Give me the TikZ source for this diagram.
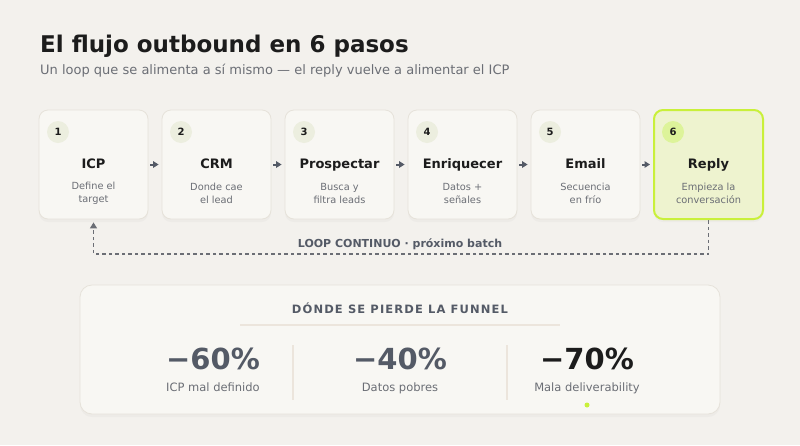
\documentclass[tikz,border=0pt]{standalone}
\usepackage{fontspec}
\setmainfont{DejaVu Sans}
\newfontfamily\spacedfont[LetterSpace=10]{DejaVu Sans}
\usepackage{tikz}
\usetikzlibrary{arrows.meta,shadows}

\definecolor{paper}{HTML}{F3F1ED}
\definecolor{card}{HTML}{F8F7F3}
\definecolor{cardline}{HTML}{E6E2DA}
\definecolor{badgefill}{HTML}{ECEEDF}
\definecolor{lime}{HTML}{C9F03A}
\definecolor{limefill}{HTML}{EEF3CF}
\definecolor{limebadge}{HTML}{DDF39A}
\definecolor{ink}{HTML}{1C1C1C}
\definecolor{softgray}{HTML}{6B6E75}
\definecolor{numgray}{HTML}{545A66}
\definecolor{beige}{HTML}{ECE5DC}

\tikzset{
    stepbox/.style = {draw = cardline, fill = card, line width = 0.8pt,
        rounded corners = 9pt, minimum width = 109pt, minimum height = 109pt,
        drop shadow = {shadow xshift = 0pt, shadow yshift = -3pt, opacity = 0.05}},
    lastbox/.style = {stepbox, draw = lime, fill = limefill, line width = 2pt},
    badge/.style = {circle, fill = badgefill, minimum size = 22pt, inner sep = 0pt,
        text = ink, font = \bfseries\fontsize{10}{11}\selectfont},
    steptitle/.style = {anchor = base, text = ink, font = \bfseries\fontsize{13}{15}\selectfont},
    steptext/.style = {align = center, inner sep = 0pt, text = softgray,
        font = \fontsize{9.8}{13}\selectfont},
    flow/.style = {-{Triangle[length = 5.5pt, width = 6.5pt]}, draw = numgray,
        line width = 2pt, shorten < = 2pt, shorten > = 3pt},
    loopline/.style = {-{Triangle[length = 6pt, width = 7pt]}, draw = softgray,
        line width = 1.5pt, dash pattern = on 3.5pt off 3pt, shorten > = 3pt},
    bignum/.style = {anchor = base, font = \bfseries\fontsize{29}{32}\selectfont},
    numlabel/.style = {anchor = base, text = softgray, font = \fontsize{11.5}{13}\selectfont},
}

\begin{document}
\begin{tikzpicture}[x = 1pt, y = -1pt]
        \useasboundingbox[fill = paper] (0,0) rectangle (800,445);

        \node (title) [anchor = base west, text = ink, inner sep = 0pt,
            font = \bfseries\fontsize{23}{27}\selectfont] at (40,52) {El flujo outbound en 6 pasos};
        \node (subtitle) [anchor = base west, text = softgray, inner sep = 0pt,
            font = \fontsize{13}{15}\selectfont] at (40,74)
            {Un loop que se alimenta a sí mismo — el reply vuelve a alimentar el ICP};

        % los seis pasos
        \node (icp) [stepbox] at ( 93.5,164.5) {};
        \node (icp_num) [badge] at ( 58,132) {1};
        \node (icp_title) [steptitle] at ( 93.5,168) {ICP};
        \node (icp_text) [steptext] at ( 93.5,193) {Define el\\target};

        \node (crm) [stepbox] at (216.5,164.5) {};
        \node (crm_num) [badge] at (181,132) {2};
        \node (crm_title) [steptitle] at (216.5,168) {CRM};
        \node (crm_text) [steptext] at (216.5,193) {Donde cae\\el lead};

        \node (prospect) [stepbox] at (339.5,164.5) {};
        \node (prospect_num) [badge] at (304,132) {3};
        \node (prospect_title) [steptitle] at (339.5,168) {Prospectar};
        \node (prospect_text) [steptext] at (339.5,193) {Busca y\\filtra leads};

        \node (enrich) [stepbox] at (462.5,164.5) {};
        \node (enrich_num) [badge] at (427,132) {4};
        \node (enrich_title) [steptitle] at (462.5,168) {Enriquecer};
        \node (enrich_text) [steptext] at (462.5,193) {Datos +\\señales};

        \node (email) [stepbox] at (585.5,164.5) {};
        \node (email_num) [badge] at (550,132) {5};
        \node (email_title) [steptitle] at (585.5,168) {Email};
        \node (email_text) [steptext] at (585.5,193) {Secuencia\\en frío};

        \node (reply) [lastbox] at (708.5,164.5) {};
        \node (reply_num) [badge, fill = limebadge] at (673,132) {6};
        \node (reply_title) [steptitle] at (708.5,168) {Reply};
        \node (reply_text) [steptext] at (708.5,193) {Empieza la\\conversación};

        \path(icp) edge[flow] (crm);
        \path(crm) edge[flow] (prospect);
        \path(prospect) edge[flow] (enrich);
        \path(enrich) edge[flow] (email);
        \path(email) edge[flow] (reply);

        % vuelta al ICP
        \coordinate (loop_turn) at (708.5,254);
        \draw[loopline] (reply.south) -- (loop_turn) -| (icp.south);
        \node (loop_label) [text = numgray, font = \bfseries\fontsize{11}{13}\selectfont]
            at (400,244) {LOOP CONTINUO · próximo batch};

        % panel de perdidas
        \node (funnel) [draw = cardline, fill = card, line width = 0.8pt, rounded corners = 12pt,
            minimum width = 640pt, minimum height = 129pt,
            drop shadow = {shadow xshift = 0pt, shadow yshift = -3pt, opacity = 0.05}]
            at (400,349.5) {};
        \node (funnel_title) [anchor = base, text = numgray,
            font = \spacedfont\bfseries\fontsize{11.5}{13}\selectfont] at (400,313)
            {DÓNDE SE PIERDE LA FUNNEL};
        \coordinate (rule_left) at (240,325);
        \coordinate (rule_right) at (560,325);
        \draw[beige, line width = 1.5pt] (rule_left) -- (rule_right);

        \node (loss_icp) [bignum, text = numgray] at (213,369) {−60\%};
        \node (loss_icp_label) [numlabel] at (213,391) {ICP mal definido};
        \node (loss_data) [bignum, text = numgray] at (400,369) {−40\%};
        \node (loss_data_label) [numlabel] at (400,391) {Datos pobres};
        \node (loss_mail) [bignum, text = ink] at (587,369) {−70\%};
        \node (loss_mail_label) [numlabel] at (587,391) {Mala deliverability};

        \coordinate (sep_a_top) at (293,345);
        \coordinate (sep_a_bot) at (293,400);
        \coordinate (sep_b_top) at (507,345);
        \coordinate (sep_b_bot) at (507,400);
        \draw[beige, line width = 1.2pt] (sep_a_top) -- (sep_a_bot);
        \draw[beige, line width = 1.2pt] (sep_b_top) -- (sep_b_bot);
        \node (mark) [circle, fill = lime, minimum size = 5pt, inner sep = 0pt] at (587,405) {};
    \end{tikzpicture}
\end{document}
